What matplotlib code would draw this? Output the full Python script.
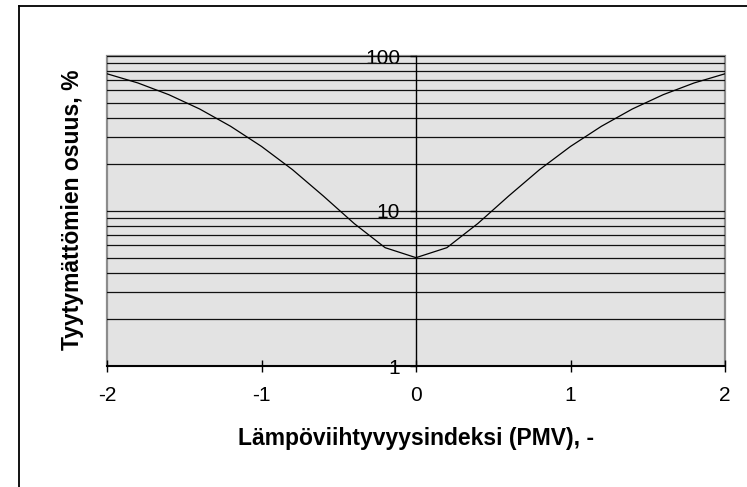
import matplotlib
matplotlib.use("Agg")
from matplotlib import pyplot as plt
from matplotlib.patches import Rectangle
from matplotlib.lines import Line2D
from matplotlib.ticker import FixedLocator, NullFormatter

plt.rcParams['font.family'] = ['Liberation Sans', 'DejaVu Sans']

# PMV index and dissatisfied share (%), sampled every 0.2
pmv = [-2.0, -1.8, -1.6, -1.4, -1.2, -1.0, -0.8, -0.6, -0.4, -0.2, 0.0,
       0.2, 0.4, 0.6, 0.8, 1.0, 1.2, 1.4, 1.6, 1.8, 2.0]
ppd = [76.8, 67.0, 56.3, 45.5, 35.2, 26.1, 18.5, 12.5, 8.3, 5.8, 5.0,
       5.8, 8.3, 12.5, 18.5, 26.1, 35.2, 45.5, 56.3, 67.0, 76.8]

x_ticks = [-2, -1, 0, 1, 2]
y_ticks = [1, 10, 100]
y_labels = ["1", "10", "100"]
minor_y = [2, 3, 4, 5, 6, 7, 8, 9, 20, 30, 40, 50, 60, 70, 80, 90]

fig = plt.figure(figsize=(7.47, 4.87), dpi=100)
ax = fig.add_axes([107/747, 1-366/487, 618/747, 310/487])

# plot area background with gray frame
ax.set_facecolor('none')
ax.add_patch(Rectangle((0, 0), 1, 1, transform=ax.transAxes, facecolor='#e3e3e3',
                       edgecolor='#8c8c8c', linewidth=1.6, zorder=0, clip_on=False))

ax.set_yscale('log')
ax.set_xlim(-2, 2)
ax.set_ylim(1, 100)

ax.yaxis.set_major_locator(FixedLocator(y_ticks))
ax.set_yticklabels(y_labels)
ax.yaxis.set_minor_locator(FixedLocator(minor_y))
ax.yaxis.set_minor_formatter(NullFormatter())
ax.set_xticks(x_ticks)
ax.set_xticklabels([str(v) for v in x_ticks])

ax.grid(True, which='both', axis='y', color='#111111', linewidth=0.9)
ax.set_axisbelow(True)

ax.plot(pmv, ppd, color='black', linewidth=0.9, zorder=3)

for s in ['top', 'right']:
    ax.spines[s].set_visible(False)
ax.spines['left'].set_position(('data', 0))
ax.spines['left'].set_linewidth(1.0)
ax.spines['bottom'].set_linewidth(1.4)
ax.spines['left'].set_zorder(4)
ax.spines['bottom'].set_zorder(4)

ax.tick_params(axis='y', which='major', direction='out', length=4.5, width=1,
               pad=7, labelsize=15)
ax.tick_params(axis='y', which='minor', length=0)
ax.tick_params(axis='x', direction='inout', length=8.5, width=1, pad=10, labelsize=15)

ax.set_xlabel('Lämpöviihtyvyysindeksi (PMV), -', fontsize=16.5, fontweight='bold', labelpad=16)
fig.text(73/747, 1-210/487, 'Tyytymättömien osuus, %', rotation=90, fontsize=16.5,
         fontweight='bold', ha='center', va='center')

# chart area border
fig.add_artist(Line2D([19/747, 19/747], [0, 1-6/487], color='black', linewidth=1.3))
fig.add_artist(Line2D([19/747, 1], [1-6/487, 1-6/487], color='black', linewidth=1.3))

fig.savefig('out.png', dpi=100)
